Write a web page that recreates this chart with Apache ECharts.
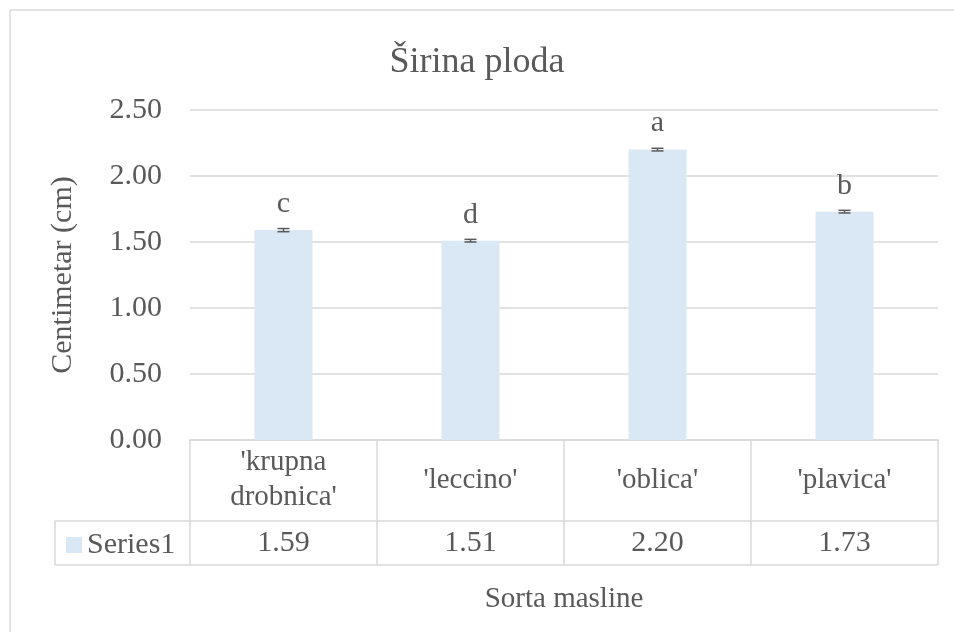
<!DOCTYPE html>
<html>
<head>
<meta charset="utf-8">
<script src="https://cdn.jsdelivr.net/npm/echarts@6/dist/echarts.min.js"></script>
<style>
  html, body { margin: 0; padding: 0; background: #fff; }
  #chart { width: 954px; height: 632px; }
</style>
</head>
<body>
<div id="chart"></div>
<script>
// data
const categories = ["'krupna\ndrobnica'", "'leccino'", "'oblica'", "'plavica'"];
const widths = [1.59, 1.51, 2.20, 1.73];
const errors = [0.012, 0.01, 0.01, 0.01];
const letters = ['c', 'd', 'a', 'b'];
const yTicks = [0, 0.5, 1, 1.5, 2, 2.5];

const font = 'Liberation Serif';
const grey = '#595959';
const lineCol = '#d9d9d9';
const barCol = '#dae7f5';

const chart = echarts.init(document.getElementById('chart'));

chart.setOption({
  animation: false,
  textStyle: { fontFamily: font, color: grey },
  title: {
    text: 'Širina ploda',
    left: 'center',
    top: 40,
    textStyle: { fontFamily: font, fontSize: 36, fontWeight: 'normal', color: grey }
  },
  legend: {
    left: 61,
    top: 525,
    icon: 'rect',
    itemWidth: 16,
    itemHeight: 16,
    itemGap: 0,
    textStyle: { fontFamily: font, fontSize: 30, color: grey },
    data: ['Series1']
  },
  grid: { left: 190, right: 16, top: 110, bottom: 192 },
  xAxis: [
    {
      type: 'category',
      data: categories,
      axisLine: { lineStyle: { color: lineCol, width: 1.5 } },
      axisTick: { show: true, length: 125, lineStyle: { color: lineCol, width: 1.5 } },
      axisLabel: {
        fontFamily: font, fontSize: 29, color: grey,
        margin: 40, verticalAlign: 'middle', lineHeight: 35
      },
      name: 'Sorta masline',
      nameLocation: 'middle',
      nameGap: 145,
      nameTextStyle: { fontFamily: font, fontSize: 29, color: grey }
    },
    {
      type: 'category',
      data: categories,
      position: 'bottom',
      offset: 81,
      axisLine: { show: false },
      axisTick: { show: false },
      axisLabel: {
        fontFamily: font, fontSize: 30, color: grey,
        margin: 22, verticalAlign: 'middle',
        formatter: (v, i) => widths[i].toFixed(2)
      }
    }
  ],
  yAxis: {
    type: 'value',
    min: yTicks[0],
    max: yTicks[yTicks.length - 1],
    interval: 0.5,
    axisLine: { show: false },
    axisTick: { show: false },
    splitLine: { lineStyle: { color: lineCol, width: 1.5 } },
    axisLabel: {
      fontFamily: font, fontSize: 30, color: grey, margin: 28,
      formatter: v => v.toFixed(2)
    },
    name: 'Centimetar (cm)',
    nameLocation: 'middle',
    nameGap: 112,
    nameTextStyle: { fontFamily: font, fontSize: 30, color: grey }
  },
  series: [
    {
      name: 'Series1',
      type: 'bar',
      data: widths,
      barWidth: 58,
      itemStyle: { color: barCol },
      label: {
        show: true,
        position: 'top',
        distance: 11,
        fontFamily: font,
        fontSize: 30,
        color: grey,
        formatter: p => letters[p.dataIndex]
      }
    },
    {
      name: 'err',
      type: 'custom',
      data: widths.map((v, i) => [i, v - errors[i], v + errors[i]]),
      z: 5,
      renderItem: (params, api) => {
        const lo = api.coord([api.value(0), api.value(1)]);
        const hi = api.coord([api.value(0), api.value(2)]);
        const w = 6;
        const style = { stroke: grey, lineWidth: 1.5 };
        return {
          type: 'group',
          children: [
            { type: 'line', shape: { x1: lo[0], y1: lo[1], x2: hi[0], y2: hi[1] }, style },
            { type: 'line', shape: { x1: lo[0] - w, y1: lo[1], x2: lo[0] + w, y2: lo[1] }, style },
            { type: 'line', shape: { x1: hi[0] - w, y1: hi[1], x2: hi[0] + w, y2: hi[1] }, style }
          ]
        };
      }
    }
  ],
  graphic: [
    // outer chart frame (top and left edges; the rest runs off the picture)
    { type: 'line', shape: { x1: 10, y1: 10, x2: 954, y2: 10 }, style: { stroke: lineCol, lineWidth: 1.5 }, silent: true },
    { type: 'line', shape: { x1: 10, y1: 10, x2: 10, y2: 632 }, style: { stroke: lineCol, lineWidth: 1.5 }, silent: true },
    // data table frame (series row)
    { type: 'line', shape: { x1: 55, y1: 521, x2: 938, y2: 521 }, style: { stroke: lineCol, lineWidth: 1.5 } },
    { type: 'line', shape: { x1: 55, y1: 565, x2: 938, y2: 565 }, style: { stroke: lineCol, lineWidth: 1.5 } },
    { type: 'line', shape: { x1: 55, y1: 521, x2: 55, y2: 565 }, style: { stroke: lineCol, lineWidth: 1.5 } }
  ]
});

window.onresize = function () {
  chart.resize();
};
</script>
</body>
</html>
